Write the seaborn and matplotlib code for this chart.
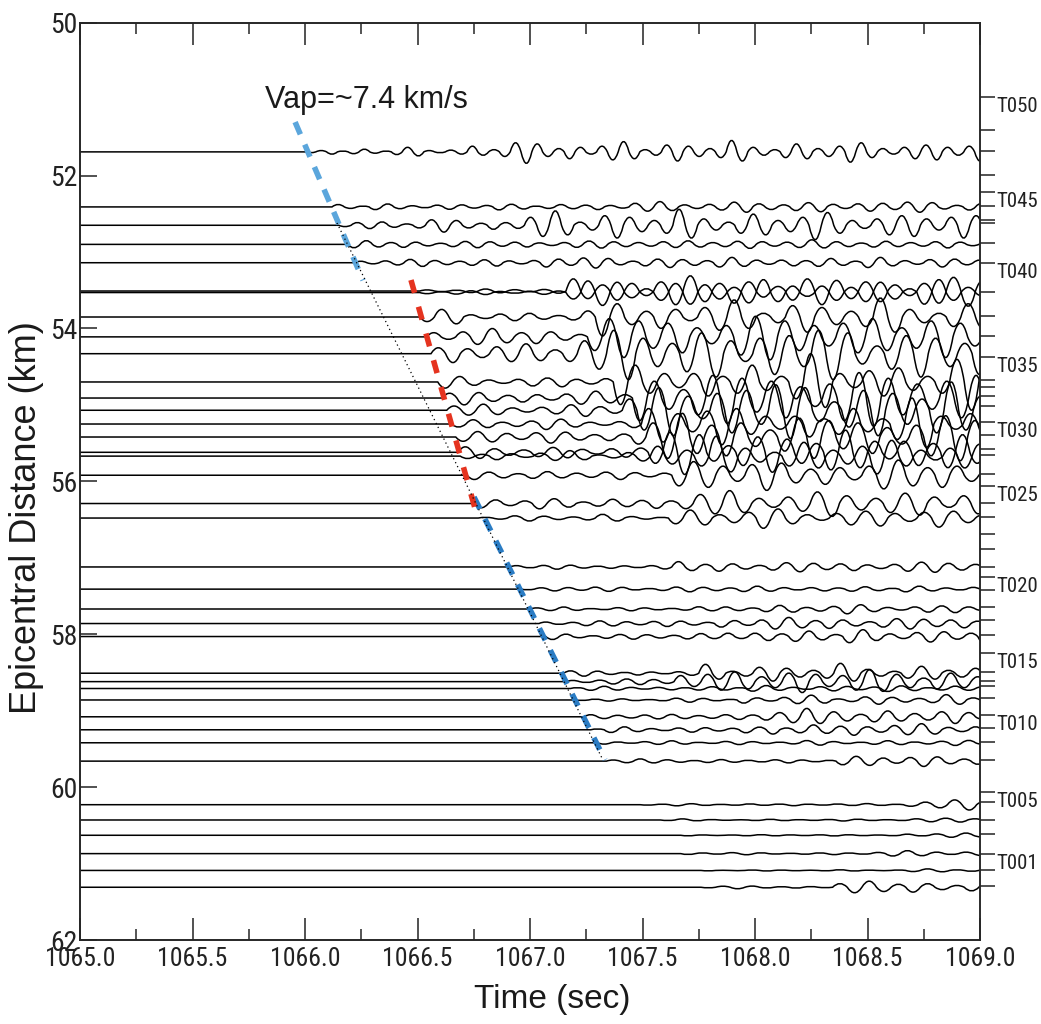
import matplotlib.pyplot as plt
import seaborn as sns
from matplotlib import font_manager
from matplotlib.font_manager import FontProperties
from matplotlib.path import Path
from matplotlib.patches import PathPatch
from matplotlib.ticker import MultipleLocator

# ---- traces: distance (km), onset of shaking (s) ----
dist = [51.69, 52.41, 52.65, 52.90, 53.14, 53.51, 53.53, 53.85, 54.11, 54.33,
        54.70, 54.91, 55.07, 55.25, 55.42, 55.62, 55.67, 55.92, 56.29, 56.48,
        57.12, 57.41, 57.67, 57.86, 58.03, 58.51, 58.62, 58.71, 58.86, 59.08,
        59.25, 59.42, 59.66, 60.23, 60.43, 60.63, 60.87, 61.09, 61.31]
onset = [1066.00, 1066.12, 1066.15, 1066.19, 1066.22, 1066.51, 1066.51, 1066.51, 1066.54, 1066.56,
         1066.59, 1066.61, 1066.63, 1066.65, 1066.67, 1066.68, 1066.69, 1066.72, 1066.75, 1066.77,
         1066.91, 1066.96, 1067.00, 1067.04, 1067.07, 1067.15, 1067.16, 1067.18, 1067.20, 1067.24,
         1067.27, 1067.30, 1067.34, 1067.49, 1067.58, 1067.67, 1067.67, 1067.76, 1067.76]
# peak amplitude (km) before / after the time the shaking grows
amp_early = [0.06, 0.04, 0.09, 0.05, 0.05, 0.03, 0.03, 0.10, 0.11, 0.13,
             0.09, 0.09, 0.08, 0.08, 0.08, 0.08, 0.08, 0.07, 0.07, 0.05,
             0.03, 0.03, 0.03, 0.04, 0.04, 0.04, 0.04, 0.03, 0.03, 0.04,
             0.04, 0.03, 0.03, 0.015, 0.015, 0.01, 0.015, 0.01, 0.02]
amp_late = [0.15, 0.07, 0.21, 0.06, 0.07, 0.20, 0.17, 0.25, 0.30, 0.34,
            0.37, 0.37, 0.37, 0.34, 0.31, 0.29, 0.26, 0.20, 0.17, 0.15,
            0.07, 0.04, 0.07, 0.08, 0.09, 0.13, 0.16, 0.04, 0.07, 0.11,
            0.08, 0.04, 0.07, 0.07, 0.04, 0.03, 0.04, 0.03, 0.08]
surge = [1066.70, 1067.40, 1066.90, 1067.50, 1067.00, 1067.13, 1067.15, 1067.25, 1067.25, 1067.10,
         1067.35, 1067.40, 1067.40, 1067.45, 1067.45, 1067.50, 1067.50, 1067.60, 1067.60, 1067.60,
         1067.60, 1067.60, 1067.80, 1067.80, 1067.80, 1067.70, 1067.60, 1067.80, 1067.90, 1068.00,
         1068.00, 1068.20, 1068.30, 1068.60, 1068.60, 1068.60, 1068.50, 1068.60, 1068.30]
half_period = [0.048, 0.055, 0.055, 0.055, 0.055] + [0.065] * 15 + [0.06] * 13 + [0.065] * 6
template_id = [1, 0, 1, 2, 0, 2, 0, 1, 2, 0, 1, 2, 0, 1, 2, 0, 1, 2, 0, 1,
               2, 0, 1, 2, 0, 1, 2, 0, 1, 2, 0, 1, 2, 0, 1, 2, 0, 1, 2]
shift = [0, 5, 12, 20, 33, 3, 40, 8, 17, 25, 50, 11, 29, 44, 6, 37, 22, 58, 14, 31,
         9, 46, 27, 3, 52, 19, 35, 61, 12, 41, 7, 24, 55, 16, 38, 2, 48, 30, 10]

# successive wiggle peaks (normalised)
wave_a = [0.3, -0.5, 0.6, -0.4, 0.7, -0.8, 0.5, -0.3, 0.9, -1.0, 0.6,
          -0.4, 0.3, -0.6, 0.8, -0.7, 0.4, -0.5, 1.0, -0.9, 0.7, -0.3,
          0.5, -0.8, 0.6, -0.6, 0.9, -0.5, 0.4, -0.7, 0.8, -1.0, 0.7,
          -0.4, 0.3, -0.5, 0.6, -0.9, 1.0, -0.6, 0.5, -0.4, 0.7, -0.8,
          0.9, -0.5, 0.3, -0.6, 0.8, -0.7, 0.5, -0.9, 1.0, -0.8, 0.4,
          -0.3, 0.6, -0.7, 0.9, -0.6, 0.5, -0.4, 0.8, -1.0, 0.7, -0.5]
wave_b = [0.2, -0.3, 0.5, -0.2, 0.4, -0.6, 0.3, -0.2, 0.6, -1.0, 0.9,
          -0.3, 0.2, -0.4, 0.5, -0.5, 0.3, -0.2, 0.4, -0.8, 1.0, -0.7,
          0.4, -0.3, 0.6, -0.4, 0.2, -0.5, 0.7, -0.9, 0.6, -0.2, 0.3,
          -0.6, 0.8, -0.5, 0.4, -0.3, 0.5, -1.0, 0.8, -0.4, 0.3, -0.2,
          0.5, -0.7, 0.6, -0.3, 0.4, -0.5, 0.9, -0.8, 0.5, -0.3, 0.2,
          -0.4, 0.6, -0.6, 0.7, -0.4, 0.3, -0.5, 0.8, -0.6, 0.4, -0.3]
wave_c = [0.4, -0.6, 0.8, -0.5, 0.3, -0.4, 0.7, -0.9, 0.8, -0.6, 0.4,
          -0.7, 1.0, -0.8, 0.5, -0.4, 0.6, -0.5, 0.3, -0.6, 0.9, -1.0,
          0.7, -0.5, 0.8, -0.6, 0.4, -0.3, 0.6, -0.8, 0.9, -0.7, 0.5,
          -0.6, 0.7, -0.4, 0.3, -0.5, 0.8, -0.9, 1.0, -0.7, 0.6, -0.5,
          0.4, -0.6, 0.7, -0.8, 0.6, -0.4, 0.5, -0.7, 0.9, -0.6, 0.4,
          -0.5, 0.7, -1.0, 0.8, -0.6, 0.5, -0.3, 0.6, -0.7, 0.5, -0.4]

# picked arrival lines (time s, distance km)
vap_light_t = [1065.956, 1066.258]
vap_light_d = [51.30, 53.37]
vap_dark_t = [1066.751, 1067.333]
vap_dark_d = [56.205, 59.645]
vap_dot_t = [1066.142, 1067.324]
vap_dot_d = [52.62, 59.645]
red_t = [1066.471, 1066.760]
red_d = [53.366, 56.40]

# station positions on the right axis
station_km = [50.97, 51.40, 51.68, 51.99, 52.22, 52.40, 52.58, 52.62, 52.88, 53.14,
              53.52, 53.84, 54.10, 54.37, 54.67, 54.77, 54.89, 55.02, 55.22, 55.39,
              55.58, 55.65, 55.90, 56.06, 56.28, 56.46, 56.69, 56.89, 57.12, 57.25,
              57.42, 57.65, 57.81, 58.01, 58.25, 58.49, 58.61, 58.68, 58.84, 59.06,
              59.23, 59.41, 59.65, 60.06, 60.20, 60.43, 60.61, 60.87, 61.08, 61.29]
station_lbl = ["T050", "", "", "", "T045", "", "", "", "", "T040",
               "", "", "", "T035", "", "", "", "", "T030", "",
               "", "", "", "T025", "", "", "", "", "", "T020",
               "", "", "", "", "T015", "", "", "", "", "T010",
               "", "", "", "T005", "", "", "", "T001", "", ""]

x_ticks = [1065.0, 1065.5, 1066.0, 1066.5, 1067.0, 1067.5, 1068.0, 1068.5, 1069.0]
x_tick_labels = ["1065.0", "1065.5", "1066.0", "1066.5", "1067.0", "1067.5", "1068.0", "1068.5", "1069.0"]
y_ticks = [50, 52, 54, 56, 58, 60, 62]
y_tick_labels = ["50", "52", "54", "56", "58", "60", "62"]

sns.set_theme(style="ticks")
plt.rcParams["font.family"] = ["Liberation Sans", "DejaVu Sans"]


def narrow_font(size, fallback_size):
    # a condensed face if one is installed, else plain Liberation Sans a bit smaller
    prefer = ["Liberation Sans Narrow", "Roboto Condensed", "Open Sans Condensed",
              "Noto Sans Condensed", "DejaVu Sans Condensed"]
    found = {}
    for f in font_manager.fontManager.ttflist:
        st = str(f.stretch).lower()
        narrow = ("narrow" in f.name.lower() or "condensed" in f.name.lower()
                  or st in ("condensed", "semi-condensed", "extra-condensed", "ultra-condensed"))
        if narrow and f.style == "normal" and str(f.weight) in ("400", "normal", "regular"):
            key = f.name + (" Condensed" if st != "normal" and "ondensed" not in f.name else "")
            found.setdefault(key, f.fname)
    for p in prefer:
        if p in found:
            return FontProperties(fname=found[p], size=size)
    if found:
        return FontProperties(fname=sorted(found.items())[0][1], size=size)
    return FontProperties(family="Liberation Sans", size=fallback_size)


fig = plt.figure(figsize=(10.41, 10.24), dpi=100)
ax = fig.add_axes([80 / 1041, 84 / 1024, 900 / 1041, 917.3 / 1024])

waves = [wave_a, wave_b, wave_c]
for i, d in enumerate(dist):
    w = waves[template_id[i]]
    h = half_period[i]
    t = onset[i]
    verts = [(1065.0, d), (t, d)]
    codes = [Path.MOVETO, Path.LINETO]
    k = 0
    while t < 1069.0:
        a = amp_early[i] if t < surge[i] else amp_late[i]
        v = w[(shift[i] + k) % len(w)]
        verts += [(t + h / 2, d + 2 * a * v), (t + h, d)]
        codes += [Path.CURVE3, Path.CURVE3]
        t += h
        k += 1
    ax.add_patch(PathPatch(Path(verts, codes), fill=False, ec="black", lw=1.1, zorder=1))

sns.lineplot(x=vap_light_t, y=vap_light_d, ax=ax, color="#5ba6dc", lw=4,
             linestyle=(0, (2.4, 2.0)), sort=False, zorder=3)
sns.lineplot(x=vap_dark_t, y=vap_dark_d, ax=ax, color="#2a7cc4", lw=4,
             linestyle=(0, (2.4, 2.0)), sort=False, zorder=3)
sns.lineplot(x=vap_dot_t, y=vap_dot_d, ax=ax, color="black", lw=0.9,
             linestyle=(0, (1, 2.5)), sort=False, zorder=4)
sns.lineplot(x=red_t, y=red_d, ax=ax, color="#e5331f", lw=4,
             linestyle=(0, (2.4, 2.6)), sort=False, zorder=3)

ax.text(1065.822, 51.01, "Vap=~7.4 km/s", fontsize=22, va="center", ha="left", color="#1a1a1a")

ax.set_xlim(1065, 1069)
ax.set_ylim(62, 50)
ax.set_xticks(x_ticks, labels=x_tick_labels, fontproperties=narrow_font(18.5, 16.5))
ax.set_yticks(y_ticks, labels=y_tick_labels, fontproperties=narrow_font(20, 18))
ax.xaxis.set_minor_locator(MultipleLocator(0.25))
ax.tick_params(axis="x", which="major", direction="in", length=16, width=1.1,
               top=True, bottom=True, pad=5, colors="#222222")
ax.tick_params(axis="x", which="minor", direction="in", length=8, width=1.1,
               top=True, bottom=True)
ax.tick_params(axis="y", which="major", direction="in", length=12, width=1.1,
               left=True, right=True, pad=2, colors="#222222")
for sp in ax.spines.values():
    sp.set_linewidth(1.1)
    sp.set_color("#222222")

ax.set_xlabel("Time (sec)", fontsize=24, color="#1a1a1a")
ax.xaxis.set_label_coords(0.525, -0.048)
ax.set_ylabel("Epicentral Distance (km)", fontsize=26, color="#1a1a1a")
ax.yaxis.set_label_coords(-0.04, 0.46)

ax2 = ax.twinx()
ax2.set_ylim(62, 50)
ax2.set_yticks(station_km, labels=station_lbl, fontproperties=narrow_font(15, 11.5))
ax2.tick_params(axis="y", direction="out", length=11, width=1.1, pad=1, colors="#222222")
for lbl in ax2.get_yticklabels():
    lbl.set_verticalalignment("top")
ax2.spines["right"].set_linewidth(1.1)

fig.savefig("out.png", dpi=100)
